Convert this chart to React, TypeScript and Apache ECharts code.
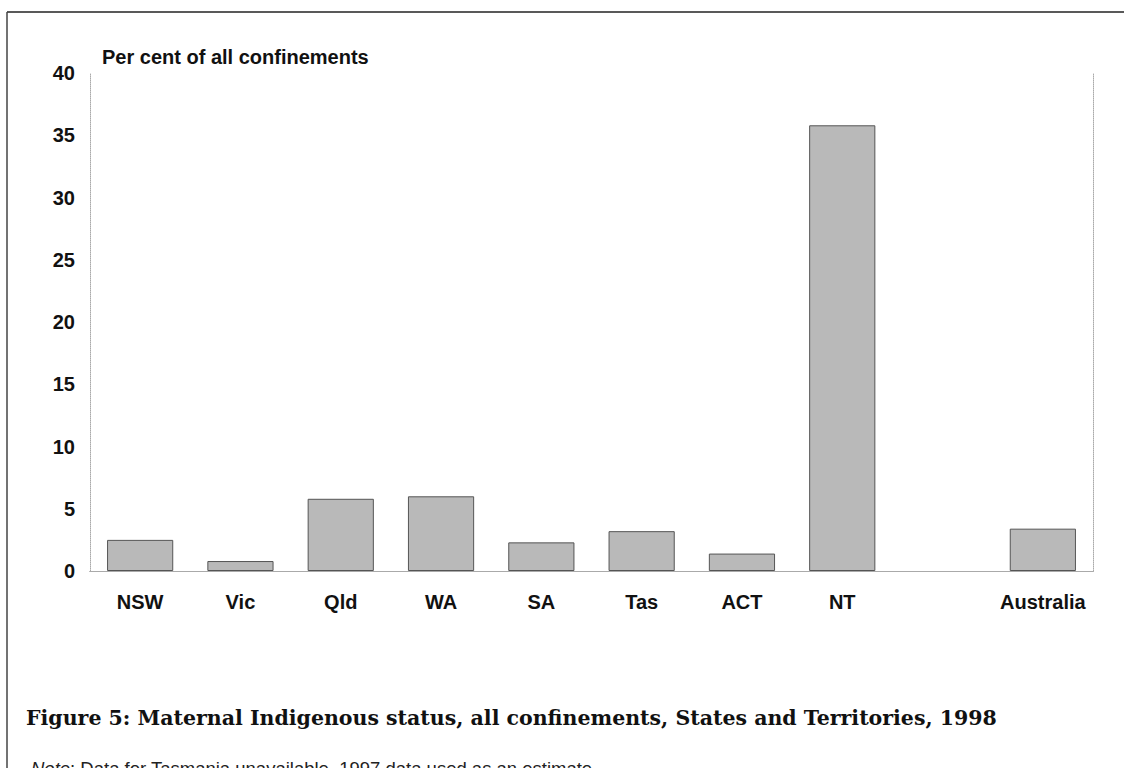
import React, { useEffect, useRef } from "react";
import * as echarts from "echarts";

const categories = ["NSW", "Vic", "Qld", "WA", "SA", "Tas", "ACT", "NT", "", "Australia"];
const values: (number | null)[] = [2.5, 0.8, 5.8, 6.0, 2.3, 3.2, 1.4, 35.8, null, 3.4];
const yTicks = [0, 5, 10, 15, 20, 25, 30, 35, 40];
const axisTitle = "Per cent of all confinements";
const figureTitle = "Figure 5: Maternal Indigenous status, all confinements, States and Territories, 1998";
const noteText = "Data for Tasmania unavailable. 1997 data used as an estimate.";

export default function App() {
  const ref = useRef<HTMLDivElement>(null);
  useEffect(() => {
    if (!ref.current) return;
    const chart = echarts.init(ref.current, undefined, { renderer: "svg" });
    const sans = "Liberation Sans, Arial, sans-serif";
    chart.setOption({
      animation: false,
      backgroundColor: "#ffffff",
      title: [
        {
          text: figureTitle,
          left: 21,
          top: 702,
          textStyle: { fontFamily: "DejaVu Serif, serif", fontWeight: "bold", fontSize: 20.5, color: "#111" },
        },
        {
          text: "{i|Note}: " + noteText,
          left: 26,
          top: 754,
          textStyle: {
            fontFamily: sans,
            fontWeight: "normal",
            fontSize: 18.5,
            color: "#222",
            rich: { i: { fontStyle: "italic", fontFamily: sans, fontSize: 18.5, color: "#222" } },
          },
        },
      ],
      graphic: [
        { type: "line", shape: { x1: 7, y1: 12, x2: 1124, y2: 12 }, style: { stroke: "#222", lineWidth: 1.5 } },
        { type: "line", shape: { x1: 7, y1: 12, x2: 7, y2: 768 }, style: { stroke: "#444", lineWidth: 1.5 } },
      ],
      grid: { left: 90, right: 31, top: 73, bottom: 197, containLabel: false },
      xAxis: [
        {
          type: "category",
          data: categories,
          axisLine: { show: true, lineStyle: { color: "#777", type: "dotted", width: 1 } },
          axisTick: { show: false },
          axisLabel: { interval: 0, margin: 21, fontFamily: sans, fontWeight: "bold", fontSize: 20, color: "#111" },
        },
        {
          type: "category",
          data: categories,
          position: "top",
          axisLine: { show: true, lineStyle: { color: "#aaa", type: "dotted", width: 1 } },
          axisTick: { show: false },
          axisLabel: { show: false },
        },
      ],
      yAxis: [
        {
          type: "value",
          min: 0,
          max: 40,
          interval: 5,
          name: axisTitle,
          nameLocation: "end",
          nameGap: 6,
          nameTextStyle: { fontFamily: sans, fontWeight: "bold", fontSize: 20, color: "#111", align: "left", padding: [0, 0, 0, 12] },
          axisLine: { show: true, lineStyle: { color: "#aaa", type: "dotted", width: 1 } },
          axisTick: { show: false },
          splitLine: { show: false },
          axisLabel: {
            margin: 15,
            fontFamily: sans,
            fontWeight: "bold",
            fontSize: 20,
            color: "#111",
            formatter: (v: number) => (yTicks.includes(v) ? String(v) : ""),
          },
        },
        {
          type: "value",
          min: 0,
          max: 40,
          interval: 5,
          position: "right",
          axisLine: { show: true, lineStyle: { color: "#aaa", type: "dotted", width: 1 } },
          axisTick: { show: false },
          splitLine: { show: false },
          axisLabel: { show: false },
        },
      ],
      series: [
        {
          type: "bar",
          data: values,
          barCategoryGap: "34%",
          itemStyle: { color: "#b9b9b9", borderColor: "#555", borderWidth: 1 },
        },
      ],
    });
    return () => chart.dispose();
  }, []);
  return <div ref={ref} style={{ position: "fixed", left: 0, top: 0, width: 1124, height: 768 }} />;
}
